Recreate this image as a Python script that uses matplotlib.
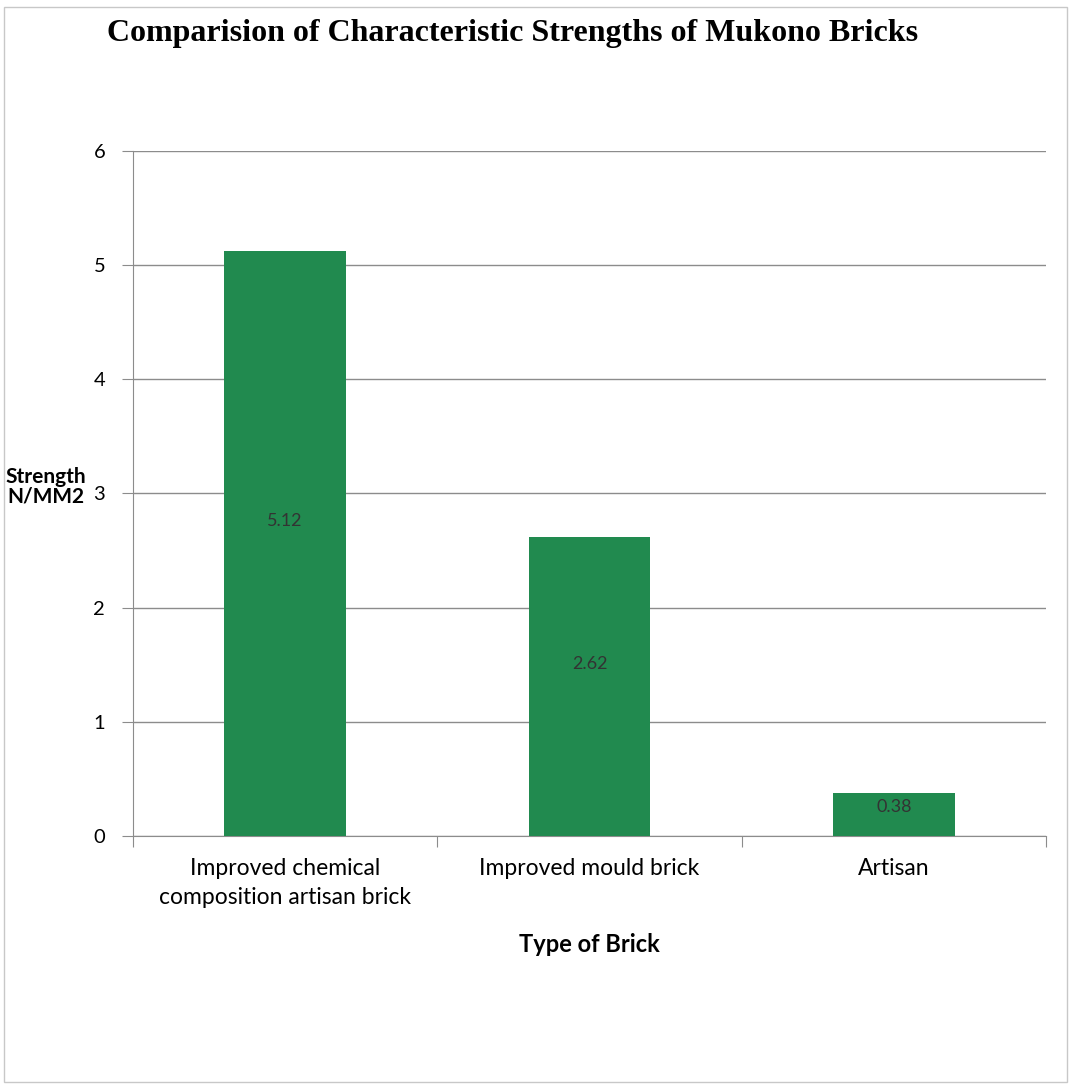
import matplotlib.pyplot as plt
from matplotlib.patches import Rectangle

# data
brick_types = ["Improved chemical\ncomposition artisan brick", "Improved mould brick", "Artisan"]
strengths = [5.12, 2.62, 0.38]
y_ticks = [0, 1, 2, 3, 4, 5, 6]

bar_color = "#218a4f"
grid_color = "#8c8c8c"
label_font = "Lato"

fig = plt.figure(figsize=(10.76, 10.86), dpi=100)
fig.patches.append(Rectangle((0.004, 0.004), 0.988, 0.99, transform=fig.transFigure,
                             fill=False, edgecolor="#c8c8c8", linewidth=1.0))

ax = fig.add_axes([0.1236, 0.2302, 0.8485, 0.6308])

x = list(range(len(strengths)))
ax.bar(x, strengths, width=0.4, color=bar_color, zorder=3)

# value labels, roughly in the middle of each bar
for xi, v in zip(x, strengths):
  ax.text(xi, v / 2 + min(0.2, v / 6), f"{v:.2f}", ha="center", va="center",
          fontsize=13, color="#333333", family=label_font, zorder=4)

ax.set_xlim(-0.5, len(strengths) - 0.5)
ax.set_ylim(0, 6)
ax.set_yticks(y_ticks)
ax.set_yticklabels([str(t) for t in y_ticks], family=label_font, fontsize=14.5)
ax.yaxis.grid(True, color=grid_color, linewidth=1.0, zorder=0)

# bottom axis: ticks on category boundaries, labels in the middle
ax.set_xticks([i - 0.5 for i in range(len(strengths) + 1)])
ax.set_xticklabels([])
ax.set_xticks(x, minor=True)
ax.set_xticklabels(brick_types, minor=True, family=label_font, fontsize=16.5, linespacing=1.45)
ax.tick_params(axis="x", which="minor", length=0, pad=16)
ax.tick_params(axis="x", which="major", length=8, color=grid_color)
ax.tick_params(axis="y", length=8, color=grid_color, pad=12)

for side in ["top", "right"]:
  ax.spines[side].set_visible(False)
for side in ["left", "bottom"]:
  ax.spines[side].set_color(grid_color)

ax.set_xlabel("Type of Brick", family=label_font, fontweight="bold", fontsize=17, labelpad=18)
fig.text(0.043, 0.552, "Strength\nN/MM2", ha="center", va="center", family=label_font,
         fontweight="bold", fontsize=15, linespacing=1.0)

fig.text(0.476, 0.969, "Comparision of Characteristic Strengths of Mukono Bricks", ha="center",
         va="center", family="Liberation Serif", fontweight="bold", fontsize=23)

fig.savefig("out.png", dpi=100)
